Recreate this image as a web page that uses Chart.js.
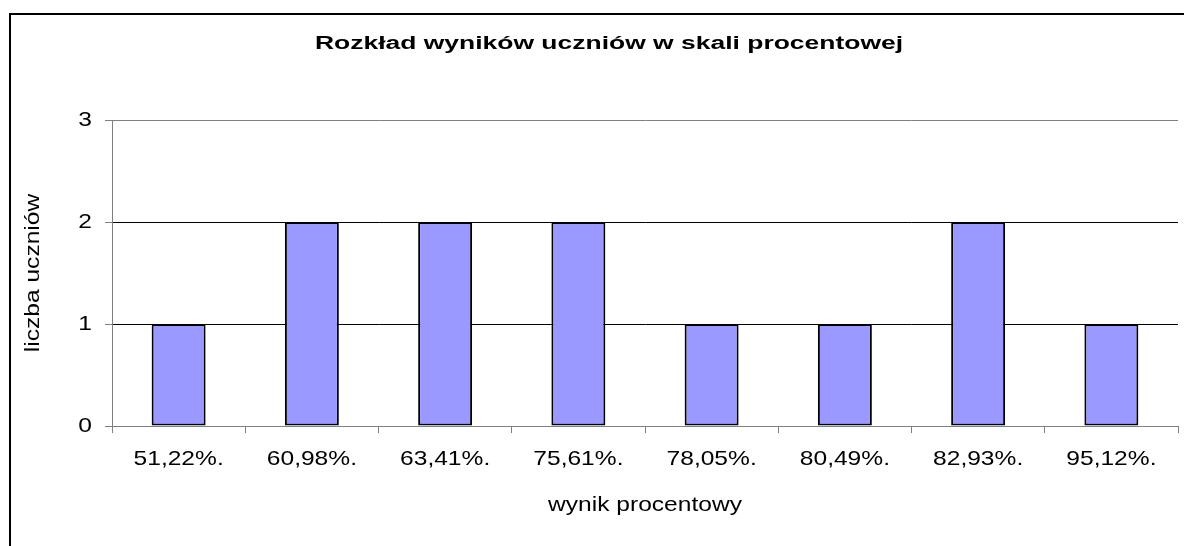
<!DOCTYPE html>
<html>
<head>
<meta charset="utf-8">
<script src="https://cdn.jsdelivr.net/npm/chart.js@4.4.1/dist/chart.umd.min.js"></script>
<style>
  html, body { margin: 0; padding: 0; background: #fff; }
  #wrap { position: relative; width: 1184px; height: 546px; overflow: hidden; }
  #frame {
    position: absolute; left: 9px; top: 13px; width: 2000px; height: 1000px;
    border-left: 2px solid #000; border-top: 2px solid #000; pointer-events: none;
  }
</style>
</head>
<body>
<div id="wrap">
  <canvas id="chart" width="1184" height="546"></canvas>
  <div id="frame"></div>
</div>
<script>
// values
const categories = ["51,22%.", "60,98%.", "63,41%.", "75,61%.", "78,05%.", "80,49%.", "82,93%.", "95,12%."];
const studentCounts = [1, 2, 2, 2, 1, 1, 2, 1];
const yMax = 3;

const chartTitle = "Rozkład wyników uczniów w skali procentowej";
const xTitle = "wynik procentowy";
const yTitle = "liczba uczniów";

// the source picture is stretched sideways, so text is widened too
const stretchText = {
    id: "stretchText",
    beforeDraw(chart) {
        const ctx = chart.ctx;
        if (ctx._stretched) return;
        const orig = ctx.fillText.bind(ctx);
        ctx.fillText = function(text, x, y) {
            const s = ctx.font.indexOf("bold") >= 0 ? 1.47 : 1.17;
            ctx.save();
            ctx.translate(x, y);
            ctx.scale(s, 1);
            orig(text, 0, 0);
            ctx.restore();
        };
        ctx._stretched = true;
    }
};

const ctx = document.getElementById("chart").getContext("2d");
const chart = new Chart(ctx, {
    type: "bar",
    data: {
        labels: categories,
        datasets: [{
            data: studentCounts,
            backgroundColor: "#9999ff",
            borderColor: "#000",
            borderWidth: 2,
            borderSkipped: false,
            barPercentage: 0.405,
            categoryPercentage: 1
        }]
    },
    options: {
        responsive: false,
        animation: false,
        layout: { padding: { left: 40, right: 6, top: 0, bottom: 0 } },
        plugins: {
            legend: { display: false },
            tooltip: { enabled: false },
            title: {
                display: true,
                text: chartTitle,
                color: "#000",
                font: { family: "Liberation Sans", size: 18, weight: "bold" },
                padding: { top: 33.7, bottom: 64.7 }
            }
        },
        scales: {
            x: {
                grid: {
                    offset: true,
                    drawOnChartArea: false,
                    drawTicks: true,
                    tickLength: 7,
                    tickColor: "#808080"
                },
                border: { color: "#808080", width: 1 },
                ticks: {
                    color: "#000",
                    padding: 14,
                    maxRotation: 0,
                    font: { family: "Liberation Sans", size: 21 }
                },
                title: {
                    display: true,
                    text: xTitle,
                    color: "#000",
                    font: { family: "Liberation Sans", size: 21 },
                    padding: { top: 0, bottom: 27.7 }
                },
                afterFit(scale) { scale.height = 120; }
            },
            y: {
                min: 0,
                max: yMax,
                grid: {
                    color: (c) => (c.tick && (c.tick.value === yMax || c.tick.value === 0)) ? "#808080" : "#000",
                    tickColor: "#808080",
                    tickLength: 7,
                    lineWidth: 1
                },
                border: { color: "#808080", width: 1 },
                ticks: {
                    stepSize: 1,
                    color: "#000",
                    padding: 13,
                    font: { family: "Liberation Sans", size: 21 }
                },
                title: {
                    display: true,
                    text: yTitle,
                    color: "#000",
                    font: { family: "Liberation Sans", size: 21 },
                    padding: { top: -19.6, bottom: 0 }
                },
                afterFit(scale) { scale.width = 72; }
            }
        }
    },
    plugins: [stretchText]
});
</script>
</body>
</html>
